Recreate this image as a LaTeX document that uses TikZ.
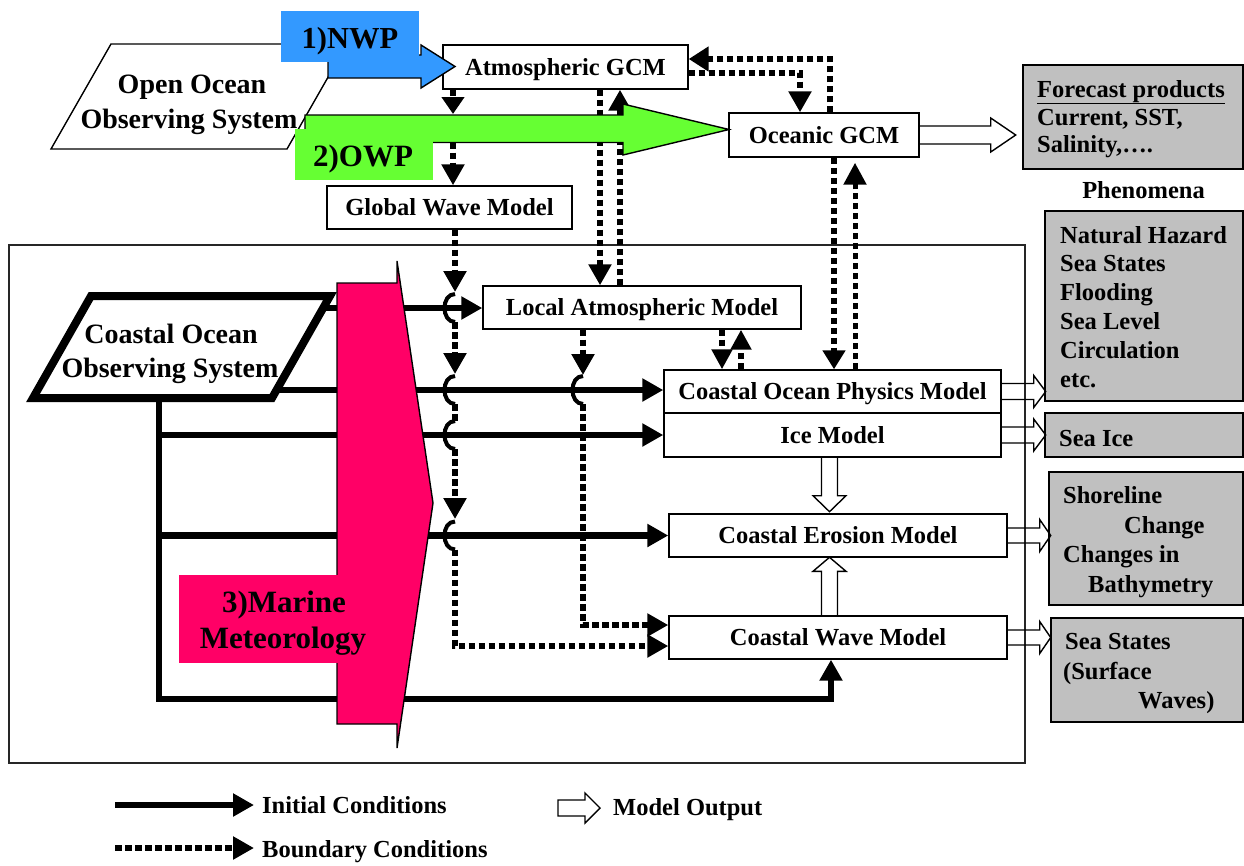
\documentclass[tikz,border=0pt]{standalone}
\usepackage{fontspec}
\setmainfont{Liberation Serif}
\usetikzlibrary{arrows.meta,calc}
\definecolor{nwpblue}{HTML}{3399FF}
\definecolor{owpgreen}{HTML}{66FF33}
\definecolor{marmag}{HTML}{FF0066}
\definecolor{prodgray}{HTML}{C0C0C0}
\newcommand\myfs[1]{\fontsize{#1}{#1}\selectfont\bfseries}
% small "hop" where a boundary-condition line jumps over a solid line
\newcommand\hopat[2]{\draw[hop] (#1,#2-14) .. controls (#1-14,#2-14) and (#1-14,#2+14) .. (#1,#2+14);}

\begin{document}
\begin{tikzpicture}[x=1pt,y=-1pt,
  box/.style={draw=black, line width=1.4pt, fill=white, inner sep=0pt, text height=16.5pt, text depth=0pt, font=\myfs{24.5}},
  prod/.style={draw=black, line width=1.6pt, fill=prodgray, inner sep=0pt},
  lbl/.style={anchor=base west, inner sep=0pt, font=\myfs{24.5}},
  ic/.style={line width=6.5pt, line join=miter, -{Triangle[length=21pt,width=22pt]}},
  bcline/.style={line width=6pt, dash pattern=on 6.5pt off 3.5pt},
  bc/.style={bcline, -{Triangle[length=21pt,width=22pt]}},
  hop/.style={line width=4pt},
  outarrow/.style={draw=black, line width=1.4pt, line join=miter},
  flat/.style={draw=none, inner sep=0pt}
]
\useasboundingbox (0,0) rectangle (1244,865);

% coastal domain frame
\draw[line width=1.4pt, black!85] (9,245) rectangle (1025,763);

% columns used by vertical connectors
\coordinate (x453) at (453,0);
\coordinate (x455) at (455,0);
\coordinate (x583) at (583,0);
\coordinate (x600) at (600,0);
\coordinate (x620) at (620,0);
\coordinate (x722) at (722,0);
\coordinate (x741) at (741,0);
\coordinate (x800) at (800,0);
\coordinate (x830) at (830,0);
\coordinate (x834) at (834,0);
\coordinate (x855) at (855,0);

% product / phenomena boxes
\node[prod, minimum width=220pt, minimum height=104pt] (fcst) at (1133,117) {};
\node[lbl] (f1) at (1037,97) {\underline{Forecast products}};
\node[lbl] (f2) at (1037,125) {Current, SST,};
\node[lbl] (f3) at (1037,152) {Salinity,….};
\node[flat, anchor=base, font=\myfs{24.5}] (phtitle) at (1143.5,198) {Phenomena};
\node[prod, minimum width=198pt, minimum height=190pt] (phen) at (1144,306) {};
\node[lbl] (p1) at (1060,243) {Natural Hazard};
\node[lbl] (p2) at (1060,271.8) {Sea States};
\node[lbl] (p3) at (1060,300.6) {Flooding};
\node[lbl] (p4) at (1060,329.4) {Sea Level};
\node[lbl] (p5) at (1060,358.2) {Circulation};
\node[lbl] (p6) at (1060,387) {etc.};
\node[prod, minimum width=198pt, minimum height=44pt] (seaice) at (1144,435) {};
\node[lbl] (si) at (1059,446) {Sea Ice};
\node[prod, minimum width=194pt, minimum height=133pt] (shore) at (1146,538.5) {};
\node[lbl] (s1) at (1063,503) {Shoreline};
\node[lbl] (s2) at (1124,533) {Change};
\node[lbl] (s3) at (1063,562) {Changes in};
\node[lbl] (s4) at (1088,592) {Bathymetry};
\node[prod, minimum width=192pt, minimum height=104pt] (seast) at (1147,670) {};
\node[lbl] (w1) at (1065,649) {Sea States};
\node[lbl] (w2) at (1063,679) {(Surface};
\node[lbl] (w3) at (1138,708) {Waves)};

% model boxes
\node[box, minimum width=245pt, minimum height=44pt] (atm) at (565.5,67) {Atmospheric GCM};
\node[box, minimum width=190pt, minimum height=44pt] (ogcm) at (824,135) {Oceanic GCM};
\node[box, minimum width=245pt, minimum height=43pt] (gwm) at (449.5,207.5) {Global Wave Model};
\node[box, minimum width=318pt, minimum height=43pt] (lam) at (642,307.5) {Local Atmospheric Model};
\node[box, minimum width=337pt, minimum height=43pt] (copm) at (832.5,391.5) {Coastal Ocean Physics Model};
\node[box, minimum width=337pt, minimum height=44pt] (ice) at (832.5,435) {Ice Model};
\node[box, minimum width=338pt, minimum height=43pt] (cem) at (838,535.5) {Coastal Erosion Model};
\node[box, minimum width=338pt, minimum height=43pt] (cwm) at (838,637.5) {Coastal Wave Model};

% open ocean observing system
\draw[line width=1.4pt, fill=white, line join=miter] (111,44) -- (347,44) -- (287,149) -- (51,149) -- cycle;
\node[flat, anchor=base, font=\myfs{28}] (oo1) at (192,93) {Open Ocean};
\node[flat, anchor=base, font=\myfs{28}] (oo2) at (189,128) {Observing System};

% coastal ocean observing system
\draw[line width=8pt, fill=white, line join=miter] (91,296) -- (330,296) -- (272,398) -- (33,398) -- cycle;
\node[flat, anchor=base, font=\myfs{28}] (co1) at (171,343) {Coastal Ocean};
\node[flat, anchor=base, font=\myfs{28}] (co2) at (170,377) {Observing System};

% boundary conditions (dotted)
\coordinate (owptop) at (453,114);
\coordinate (owpbot) at (453,142.5);
\draw[bc, -{Triangle[length=17pt,width=22pt]}] (atm.south -| x453) -- (owptop);
\draw[bc] (owpbot) -- (gwm.north -| x453);
\draw[bc] (atm.south -| x600) -- (lam.north -| x600);
\draw[bc] (lam.north -| x620) -- (atm.south -| x620);
\draw[bc] ($(atm.east)+(0,6)$) -| (ogcm.north -| x800);
\draw[bc, -{Triangle[length=20pt,width=24pt]}] (ogcm.north -| x830) |- ($(atm.east)+(0,-8)$);
\draw[bc, -{Triangle[length=19pt,width=22pt]}] (ogcm.south -| x834) -- (copm.north -| x834);
\draw[bc, line width=5pt, -{Triangle[length=22pt,width=22pt]}] (copm.north -| x855) -- ($(ogcm.south -| x855)+(0,5)$);
\draw[bc, -{Triangle[length=20pt,width=20pt]}] (lam.south -| x722) -- (copm.north -| x722);
\draw[bc, -{Triangle[length=20pt,width=20pt]}] (copm.north -| x741) -- (lam.south -| x741);
% local atmospheric model down to the coastal wave model
\draw[bc] (lam.south -| x583) -- (583,375);
\draw[bc] (583,404) |- ($(cwm.west)+(0,-12.5)$);
% global wave model down to the coastal wave model
\draw[bc] (gwm.south -| x455) -- (455,292);
\draw[bc] (455,322) -- (455,374);
\draw[bcline] (455,404) -- (455,421);
\draw[bc] (455,449) -- (455,519);
\draw[bc] (455,549.5) |- ($(cwm.west)+(0,8.5)$);

% initial conditions (solid)
\coordinate (c1) at (322,308);
\coordinate (c2) at (277,390);
\coordinate (cb) at (159,398);
\coordinate (b1) at (159,435);
\coordinate (b2) at (159,535.5);
\draw[ic] (c1) -- (c1 -| lam.west);
\draw[ic] (c2) -- (c2 -| copm.west);
\draw[ic] (cb) -- (159,699) -| ($(cwm.south)+(-7,0)$);
\draw[ic] (b1) -- (b1 -| ice.west);
\draw[ic] (b2) -- (b2 -| cem.west);

% hops over the solid lines
\hopat{455}{308}
\hopat{455}{390}
\hopat{455}{435}
\hopat{455}{535.5}
\hopat{583}{390}

% 2) ocean weather prediction
\draw[line width=1.4pt, fill=owpgreen, line join=miter] (305,115) -- (623,115) -- (623,104) -- (729,129.5) -- (623,155) -- (623,142.5) -- (305,142.5) -- cycle;
\fill[owpgreen] (295,129) rectangle (433,180);
\node[flat, anchor=base, font=\myfs{31}] (owp) at (363,166) {2)OWP};

% 1) numerical weather prediction
\draw[line width=1.4pt, fill=nwpblue, line join=miter] (328,55) -- (421,55) -- (421,45) -- (455,66.5) -- (421,88) -- (421,78) -- (328,78) -- cycle;
\fill[nwpblue] (281,11) rectangle (419,62);
\node[flat, anchor=base, font=\myfs{30.5}] (nwp) at (350,48) {1)NWP};

% 3) marine meteorology
\draw[line width=1.4pt, fill=marmag, line join=miter] (337,283) -- (397,283) -- (397,261) -- (433,503) -- (397,748) -- (397,724) -- (337,724) -- cycle;
\fill[marmag] (178.5,575) rectangle (338.5,663);
\node[flat, anchor=base, font=\myfs{31}] (mm1) at (284,612) {3)Marine};
\node[flat, anchor=base, font=\myfs{31}] (mm2) at (283,648) {Meteorology};

% model output arrows
\draw[outarrow] ($(ogcm.east)+(0,-9)$) -- ++(71,0) -- ++(0,-8) -- ++(25,17) -- ++(-25,17) -- ++(0,-8) -- ++(-71,0);
\draw[outarrow] ($(copm.east)+(0,-8)$) -- ++(32,0) -- ++(0,-8) -- ++(12,16) -- ++(-12,16) -- ++(0,-8) -- ++(-32,0);
\draw[outarrow] ($(ice.east)+(0,-8)$) -- ++(32,0) -- ++(0,-8) -- ++(12,16) -- ++(-12,16) -- ++(0,-8) -- ++(-32,0);
\draw[outarrow] ($(cem.east)+(0,-7.5)$) -- ++(32,0) -- ++(0,-8.5) -- ++(11,16) -- ++(-11,16) -- ++(0,-8.5) -- ++(-32,0);
\draw[outarrow] ($(cwm.east)+(0,-7.5)$) -- ++(32,0) -- ++(0,-8.5) -- ++(11,16) -- ++(-11,16) -- ++(0,-8.5) -- ++(-32,0);
\draw[outarrow] ($(ice.south)+(-11,0)$) -- ++(0,38) -- ++(-8.5,0) -- ++(16.5,16) -- ++(16.5,-16) -- ++(-8.5,0) -- ++(0,-38);
\draw[outarrow] ($(cwm.north)+(-16.5,0)$) -- ++(0,-44) -- ++(-8.5,0) -- ++(16.5,-14) -- ++(16.5,14) -- ++(-8.5,0) -- ++(0,44);

% legend
\coordinate (lg1a) at (115,805);
\coordinate (lg1b) at (254,805);
\coordinate (lg2a) at (115,848);
\coordinate (lg2b) at (254,848);
\draw[ic] (lg1a) -- (lg1b);
\node[lbl] (lgt1) at (262,813) {Initial Conditions};
\draw[bc] (lg2a) -- (lg2b);
\node[lbl] (lgt2) at (262,857) {Boundary Conditions};
\draw[outarrow] (558,800) -- (585,800) -- (585,793) -- (600,808) -- (585,823) -- (585,816) -- (558,816) -- cycle;
\node[lbl] (lgt3) at (613,815) {Model Output};
\end{tikzpicture}
\end{document}
